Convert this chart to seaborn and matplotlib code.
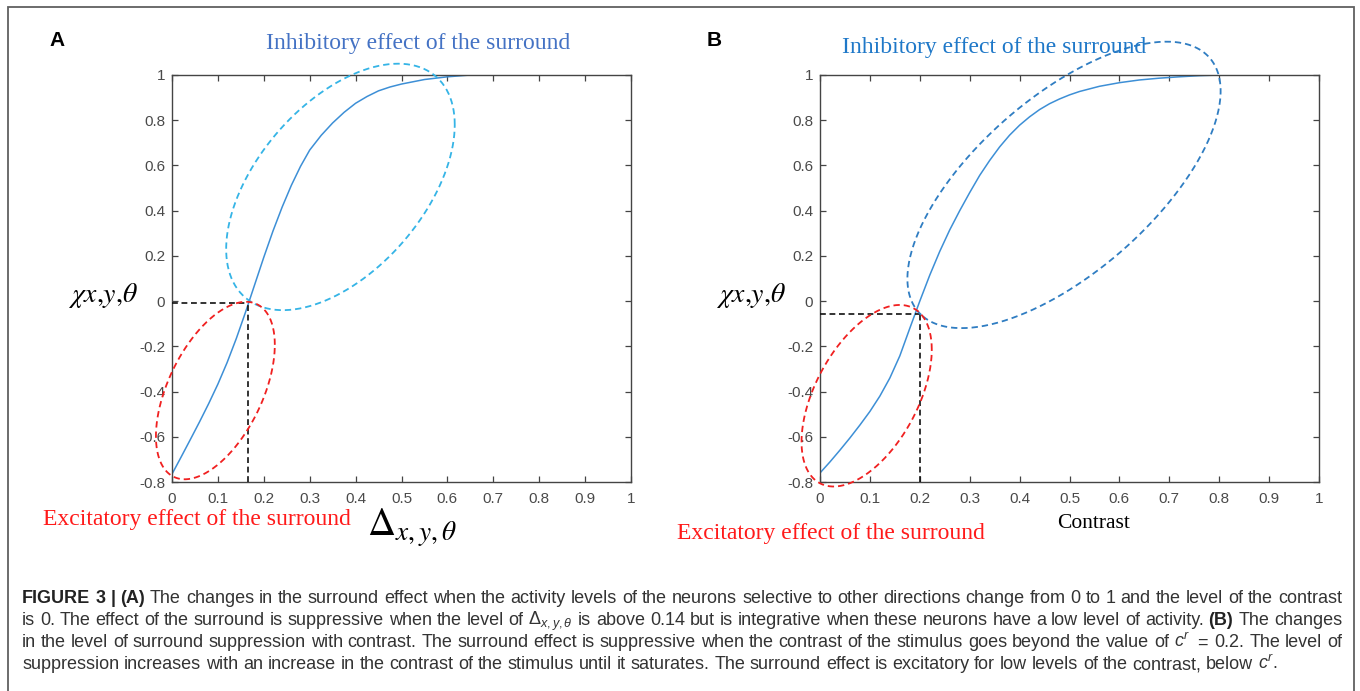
import numpy as np
import pandas as pd
import matplotlib
matplotlib.use("Agg")
import matplotlib.pyplot as plt
from matplotlib.patches import Rectangle
import seaborn as sns

# ---------------- data ----------------
delta_x = [0, 0.02, 0.04, 0.06, 0.08, 0.10, 0.12, 0.14, 0.16, 0.18, 0.20, 0.22, 0.24, 0.26,
           0.28, 0.30, 0.325, 0.35, 0.375, 0.40, 0.425, 0.45, 0.475, 0.50, 0.55, 0.60, 0.65, 1.0]
chi_a = [-0.765, -0.689, -0.612, -0.534, -0.453, -0.367, -0.272, -0.166, -0.05, 0.072, 0.194,
         0.31, 0.416, 0.512, 0.596, 0.668, 0.733, 0.788, 0.835, 0.875, 0.905, 0.93, 0.947, 0.96,
         0.98, 0.992, 1.0, 1.0]

contrast_x = [0, 0.02, 0.04, 0.06, 0.08, 0.10, 0.12, 0.14, 0.16, 0.18, 0.20, 0.22, 0.24, 0.26,
              0.28, 0.30, 0.32, 0.34, 0.36, 0.38, 0.40, 0.42, 0.44, 0.46, 0.48, 0.50, 0.52,
              0.56, 0.60, 0.64, 0.68, 0.72, 0.76, 0.80, 1.0]
chi_b = [-0.76, -0.711, -0.659, -0.605, -0.548, -0.488, -0.42, -0.34, -0.242, -0.12, 0.0,
         0.115, 0.22, 0.315, 0.40, 0.48, 0.556, 0.622, 0.682, 0.734, 0.778, 0.815, 0.847,
         0.873, 0.894, 0.912, 0.927, 0.95, 0.966, 0.978, 0.986, 0.992, 0.997, 1.0, 1.0]

# threshold markers (x, y)
thresh_a = (0.166, -0.008)
thresh_b = (0.2, -0.058)

# annotation ellipses: centre x, half-range x, centre y, half-range y, phase (deg)
ell_inhib_a = (0.367, 0.249, 0.505, 0.545, 59.7)
ell_excit_a = (0.0945, 0.1295, -0.3955, 0.3925, 59.0)
ell_excit_b = (0.0935, 0.1305, -0.4185, 0.4015, 59.5)
# outline points of the inhibitory ellipse in panel B (x, y)
ell_inhib_b_pts = [(0.174, 0.077), (0.1856, 0.178), (0.189, 0.30), (0.2257, 0.4), (0.2657, 0.548),
                   (0.3126, 0.696), (0.3593, 0.792), (0.413, 0.874), (0.46, 0.933), (0.50, 0.993),
                   (0.56, 1.067), (0.712, 1.161), (0.786, 1.098), (0.8, 1.003), (0.735, 0.61),
                   (0.59, 0.16), (0.389, -0.049), (0.276, -0.12), (0.2, -0.06)]

x_ticks = [0, 0.1, 0.2, 0.3, 0.4, 0.5, 0.6, 0.7, 0.8, 0.9, 1]
x_tick_labels = ["0", "0.1", "0.2", "0.3", "0.4", "0.5", "0.6", "0.7", "0.8", "0.9", "1"]
y_ticks = [-0.8, -0.6, -0.4, -0.2, 0, 0.2, 0.4, 0.6, 0.8, 1]
y_tick_labels = ["-0.8", "-0.6", "-0.4", "-0.2", "0", "0.2", "0.4", "0.6", "0.8", "1"]

caption_lines = [
    "**FIGURE** **3** **|** **(A)** The changes in the surround effect when the activity levels of the neurons selective to other directions change from 0 to 1 and the level of the contrast",
    r"is 0. The effect of the surround is suppressive when the level of $\Delta_{x,y,\theta}$ is above 0.14 but is integrative when these neurons have a low level of activity. **(B)** The changes",
    r"in the level of surround suppression with contrast. The surround effect is suppressive when the contrast of the stimulus goes beyond the value of $c^{r}$ $=$ 0.2. The level of",
    r"suppression increases with an increase in the contrast of the stimulus until it saturates. The surround effect is excitatory for low levels of the contrast, below $c^{r}$.",
]

# ---------------- style ----------------
sns.set_theme(style="ticks")
plt.rcParams["font.family"] = ["Liberation Sans", "DejaVu Sans"]
plt.rcParams["axes.unicode_minus"] = False
plt.rcParams["mathtext.fontset"] = "custom"
plt.rcParams["mathtext.rm"] = "Liberation Sans"
plt.rcParams["mathtext.it"] = "Liberation Sans:italic"
plt.rcParams["mathtext.bf"] = "Liberation Sans:bold"

W, H = 1360, 691
fig = plt.figure(figsize=(W / 100, H / 100), dpi=100)
fig.patch.set_facecolor("white")


def fx(px):
    return px / W


def fy(py):
    return 1 - py / H


axA = fig.add_axes([fx(172), fy(482), (631 - 172) / W, (482 - 75) / H])
axB = fig.add_axes([fx(820), fy(482), (1319 - 820) / W, (482 - 75) / H])

curve_color = "#3d8fd6"

dfA = pd.DataFrame({"x": delta_x, "y": chi_a})
dfB = pd.DataFrame({"x": contrast_x, "y": chi_b})
sns.lineplot(data=dfA, x="x", y="y", ax=axA, color=curve_color, lw=1.1, estimator=None, sort=False)
sns.lineplot(data=dfB, x="x", y="y", ax=axB, color=curve_color, lw=1.1, estimator=None, sort=False)

DASH = (0, (3.5, 2.2))


def ellipse_from_params(p):
    cx, ax_, cy, ay, d = p
    t = np.linspace(0, 2 * np.pi, 400)
    return cx + ax_ * np.cos(t), cy + ay * np.cos(t - np.deg2rad(d))


def ellipse_from_points(pts):
    P = np.asarray(pts, dtype=float)
    x, y = P[:, 0], P[:, 1]
    mx, my, sx, sy = x.mean(), y.mean(), x.std(), y.std()
    u, v = (x - mx) / sx, (y - my) / sy
    Dm = np.column_stack([u * u, u * v, v * v, u, v])
    A, B, C, D, E = np.linalg.lstsq(Dm, np.ones_like(u), rcond=None)[0]
    M = np.array([[A, B / 2], [B / 2, C]])
    b = np.array([D, E])
    c = -0.5 * np.linalg.solve(M, b)
    r = 1 - c @ M @ c - b @ c
    lam, V = np.linalg.eigh(M)
    t = np.linspace(0, 2 * np.pi, 400)
    w = V @ np.vstack([np.sqrt(r / lam[0]) * np.cos(t), np.sqrt(r / lam[1]) * np.sin(t)])
    return mx + sx * (c[0] + w[0]), my + sy * (c[1] + w[1])


def draw_ellipse(ax, xy, color):
    ax.plot(xy[0], xy[1], color=color, lw=1.3, ls=DASH, clip_on=False, zorder=5)


draw_ellipse(axA, ellipse_from_params(ell_inhib_a), "#35b4e6")
draw_ellipse(axA, ellipse_from_params(ell_excit_a), "#f02020")
draw_ellipse(axB, ellipse_from_points(ell_inhib_b_pts), "#2f7dc2")
draw_ellipse(axB, ellipse_from_params(ell_excit_b), "#f02020")

for ax, (tx, ty) in ((axA, thresh_a), (axB, thresh_b)):
    ax.plot([0, tx], [ty, ty], color="#111111", lw=1.2, ls=DASH, zorder=4)
    ax.plot([tx, tx], [-0.8, ty], color="#111111", lw=1.2, ls=DASH, zorder=4)

for ax in (axA, axB):
    ax.set_xlim(0, 1)
    ax.set_ylim(-0.8, 1)
    ax.set_xticks(x_ticks)
    ax.set_xticklabels(x_tick_labels)
    ax.set_yticks(y_ticks)
    ax.set_yticklabels(y_tick_labels)
    ax.set_xlabel("")
    ax.set_ylabel("")
    ax.tick_params(axis="both", direction="in", top=True, right=True, length=4, width=0.9,
                   color="#444444", labelcolor="#4a4a4a", labelsize=11)
    ax.tick_params(axis="x", pad=7)
    ax.tick_params(axis="y", pad=5)
    for s in ax.spines.values():
        s.set_visible(True)
        s.set_color("#444444")
        s.set_linewidth(1.0)
    ax.set_facecolor("white")

# ---------------- texts ----------------
serif = ["Liberation Serif", "DejaVu Serif"]
fig.text(fx(57), fy(41), "A", fontsize=15, fontweight="bold", ha="center", va="center", color="black")
fig.text(fx(714), fy(41), "B", fontsize=15, fontweight="bold", ha="center", va="center", color="black")

fig.text(fx(418), fy(43), "Inhibitory effect of the surround", family=serif, fontsize=17,
         color="#4472c4", ha="center", va="center")
fig.text(fx(994), fy(47), "Inhibitory effect of the surround", family=serif, fontsize=17,
         color="#1f78c8", ha="center", va="center")
fig.text(fx(197), fy(519), "Excitatory effect of the surround", family=serif, fontsize=17,
         color="#ff1a1a", ha="center", va="center")
fig.text(fx(831), fy(534), "Excitatory effect of the surround", family=serif, fontsize=17,
         color="#ff1a1a", ha="center", va="center")
fig.text(fx(1094), fy(523), "Contrast", family=serif, fontsize=15.5, color="black", ha="center", va="center")

fig.text(fx(367), fy(536), r"$\Delta_{x,y,\theta}$", math_fontfamily="stix", fontsize=28,
         color="black", ha="left", va="baseline")
fig.text(fx(103), fy(296), r"$\chi x{,}y{,}\theta$", math_fontfamily="stix", fontsize=20,
         color="black", ha="center", va="center")
fig.text(fx(751), fy(296), r"$\chi x{,}y{,}\theta$", math_fontfamily="stix", fontsize=20,
         color="black", ha="center", va="center")

# frame around the figure
fig.add_artist(Rectangle((fx(7.5), -0.05), (1354 - 7.5) / W, fy(6.5) + 0.05, transform=fig.transFigure,
                         fill=False, ec="#606060", lw=1.3))

# ---------------- justified caption ----------------
renderer = fig.canvas.get_renderer()
cap_left, cap_right = 22, 1342
baselines = [603, 625, 647, 669]
cap_size = 13.0
for i, (line, base) in enumerate(zip(caption_lines, baselines)):
    words = line.split(" ")
    arts = []
    for w in words:
        bold = w.startswith("**") and w.endswith("**")
        s = w[2:-2] if bold else w
        t = fig.text(0, fy(base), s, fontsize=cap_size, fontweight="bold" if bold else "normal",
                     color="#222222" if bold else "#333333", ha="left", va="baseline")
        arts.append(t)
    widths = [a.get_window_extent(renderer).width for a in arts]
    total = sum(widths)
    gap = (cap_right - cap_left - total) / (len(arts) - 1)
    if i == len(caption_lines) - 1:
        gap = min(gap, 4.8)
    gap = max(gap, 2.0)
    xpos = cap_left
    for a, w in zip(arts, widths):
        a.set_x(fx(xpos))
        xpos += w + gap

fig.savefig("out.png", dpi=100, facecolor="white")
